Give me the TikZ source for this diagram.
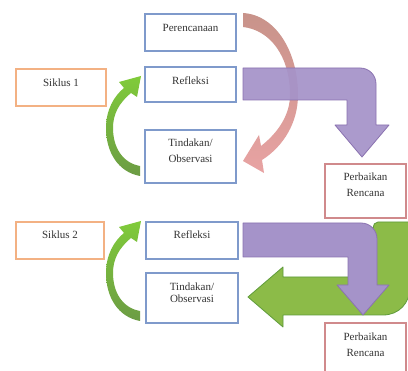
\documentclass[tikz,border=0pt]{standalone}
\usepackage{fontspec}
\setmainfont{Liberation Serif}
\definecolor{bluebd}{HTML}{7F9ACB}
\definecolor{orangebd}{HTML}{F3B183}
\definecolor{redbd}{HTML}{D08A8C}
\definecolor{purplefill}{HTML}{A593C9}
\definecolor{purplebd}{HTML}{8A72B0}
\definecolor{greenfill}{HTML}{8CBB48}
\definecolor{greenbd}{HTML}{5E9B3A}
\definecolor{greentop}{HTML}{80CB3A}
\definecolor{greenbot}{HTML}{6C9C44}
\definecolor{pinktop}{HTML}{C8938A}
\definecolor{pinkbot}{HTML}{E8A3A3}
\tikzset{
  boxbase/.style={draw, fill=white, line width=1.2pt, inner sep=0pt},
  bluebox/.style={boxbase, draw=bluebd},
  orangebox/.style={boxbase, draw=orangebd},
  redbox/.style={boxbase, draw=redbd},
  txt/.style={font=\fontsize{11}{16}\selectfont, align=center, inner sep=0pt, text=black!80},
  txttight/.style={font=\fontsize{11}{12}\selectfont, align=center, inner sep=0pt, text=black!80},
  purplearrow/.style={fill=purplefill, draw=purplebd, line width=0.8pt, line join=round},
  greenarrow/.style={fill=greenfill, draw=greenbd, line width=0.8pt, line join=round},
  greencurve/.style={top color=greentop, bottom color=greenbot, draw=none},
  pinkcurve/.style={top color=pinktop, bottom color=pinkbot, draw=none}
}
\begin{document}
\begin{tikzpicture}[x=1pt, y=-1pt]
\useasboundingbox (0,0) rectangle (408,371);
\fill[white] (0,0) rectangle (408,371);
\clip (0,0) rectangle (408,371);

% boxes
\node[bluebox, minimum width=91pt, minimum height=37pt] (per) at (190.5,32.5) {};
\node[bluebox, minimum width=91pt, minimum height=35pt] (ref1) at (190.5,84.5) {};
\node[bluebox, minimum width=91pt, minimum height=53pt] (tin1) at (190.5,156.5) {};
\node[orangebox, minimum width=90pt, minimum height=37pt] (sik1) at (61,87.5) {};
\node[redbox, minimum width=81pt, minimum height=54pt] (perb1) at (365.5,191) {};
\node[orangebox, minimum width=88pt, minimum height=37pt] (sik2) at (60,240.5) {};
\node[bluebox, minimum width=92pt, minimum height=37pt] (ref2) at (192,240.5) {};
\node[bluebox, minimum width=92pt, minimum height=50pt] (tin2) at (192,298) {};
\node[redbox, minimum width=81pt, minimum height=54pt] (perb2) at (365.5,350) {};

% texts
\node[txt] (perT) at (190.5,28) {Perencanaan};
\node[txt] (ref1T) at (190.5,81) {Refleksi};
\node[txt] (tin1T) at (190.5,151) {Tindakan/\\Observasi};
\node[txt] (sik1T) at (61,82.5) {Siklus 1};
\node[txt] (perb1T) at (365.5,185) {Perbaikan\\Rencana};
\node[txt] (sik2T) at (60,235) {Siklus 2};
\node[txt] (ref2T) at (192,235) {Refleksi};
\node[txttight] (tin2T) at (192,293) {Tindakan/\\Observasi};
\node[txt] (perb2T) at (365.5,344.5) {Perbaikan\\Rencana};

% pink curved arrow (Perencanaan -> Tindakan)
\path[pinkcurve] (243,13) .. controls (276,15) and (298,52) .. (298,95)
  .. controls (298,122) and (284,146) .. (262,160) -- (264,173) -- (243,161)
  -- (259,135) -- (261,146) .. controls (279,132) and (290,114) .. (290,95)
  .. controls (290,56) and (270,30) .. (243,27) -- cycle;

% purple arrow 1
\path[purplearrow, fill opacity=0.93] (243,68) -- (360,68) .. controls (369,68) and (376,75) .. (376,84)
  -- (376,125) -- (389,125) -- (362,157) -- (335,125) -- (347,125) -- (347,100) -- (243,100) -- cycle;

% green curved arrow 1
\path[greencurve] (140,176) .. controls (118,172) and (106,152) .. (106,128)
  .. controls (106,110) and (114,96) .. (124,88) -- (119,82) -- (141,76) -- (137,97) -- (131,93)
  .. controls (119,103) and (113,114) .. (113,128) .. controls (113,148) and (123,163) .. (140,166) -- cycle;

% green curved arrow 2
\begin{scope}[yshift=-145pt]
\path[greencurve] (140,176) .. controls (118,172) and (106,152) .. (106,128)
  .. controls (106,110) and (114,96) .. (124,88) -- (119,82) -- (141,76) -- (137,97) -- (131,93)
  .. controls (119,103) and (113,114) .. (113,128) .. controls (113,148) and (123,163) .. (140,166) -- cycle;
\end{scope}

% green U-turn arrow
\path[greenarrow] (283,277) -- (373,277) -- (373,228) .. controls (373,225) and (375,222) .. (378,222)
  -- (410,222) -- (410,287) .. controls (410,303) and (399,315) .. (383,315)
  -- (283,315) -- (283,327) -- (248,297) -- (283,267) -- cycle;

% purple arrow 2
\path[purplearrow] (243,223) -- (361,223) .. controls (370,223) and (377,230) .. (377,239)
  -- (377,285) -- (389,285) -- (363,315) -- (337,285) -- (348,285) -- (348,257) -- (243,257) -- cycle;
\end{tikzpicture}
\end{document}
